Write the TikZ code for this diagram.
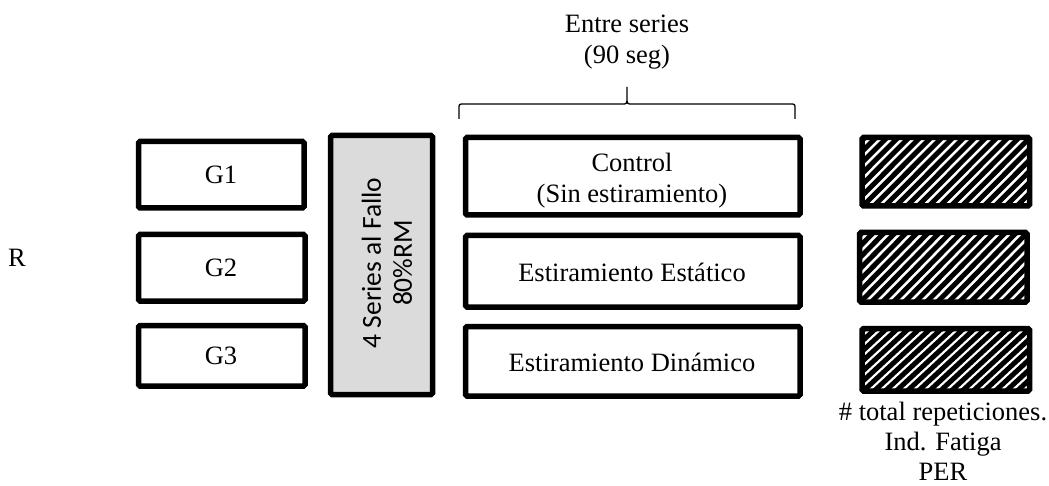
\documentclass[tikz,border=0pt]{standalone}
\usepackage{fontspec}
\setmainfont{Liberation Serif}
\newfontfamily\calfont{Carlito}
\begin{document}
\begin{tikzpicture}[x=1pt,y=-1pt,
  txt/.style={font=\fontsize{26.5}{31}\selectfont, align=center, inner sep=0pt},
  gbox/.style={draw, line width=5.5pt, rounded corners=1.5pt},
  hbox/.style={draw, line width=5.5pt, rounded corners=1.5pt}]
\useasboundingbox (0,0) rectangle (1049,486);
% R
\node[txt] (R) at (17,258) {R};
% G boxes
\draw[gbox] (138.5,141.5) rectangle (304,208);
\node[txt] (g1) at (221,175) {G1};
\draw[gbox] (138.5,234.5) rectangle (305,301);
\node[txt] (g2) at (221,268) {G2};
\draw[gbox] (138.5,325.5) rectangle (305,386);
\node[txt] (g3) at (221,356) {G3};
% gray box
\draw[gbox, fill=black!14] (330.5,135.5) rectangle (432.5,394.5);
\node[font=\calfont\fontsize{27.5}{31}\selectfont, align=center, inner sep=0pt, rotate=90] (serie) at (387,263) {4 Series al Fallo\\80\%RM};
% middle boxes
\draw[gbox] (465.5,137.5) rectangle (800,215);
\node[txt] (ctl) at (632,181) {Control\\(Sin estiramiento)};
\draw[gbox] (465.5,235.5) rectangle (800,307);
\node[txt] (est) at (632,272) {Estiramiento Estático};
\draw[gbox] (465.5,326.5) rectangle (800,396);
\node[txt] (din) at (632,362) {Estiramiento Dinámico};
% brace
\coordinate (bl) at (459,119);
\coordinate (br) at (795,119);
\coordinate (bt) at (627,87);
\draw[line width=1.3pt]
  (bl) -- (459,109) .. controls (459,104) .. (464,104) -- (622,104)
  .. controls (627,104) .. (627,97) -- (bt)
  (627,97) .. controls (627,104) .. (632,104) -- (790,104)
  .. controls (795,104) .. (795,109) -- (br);
\node[txt] (entre) at (627,42) {Entre series\\(90 seg)};
% hatched boxes
\foreach \xa/\ya/\xb/\yb in {862/137.5/1029.5/206, 859.5/232.5/1027/302, 862/328.5/1029.5/391}{
  \begin{scope}
    \clip (\xa,\ya) rectangle (\xb,\yb);
    \foreach \k in {-100,-89,...,200}{
      \draw[line width=5pt] (\xa+\k,\yb+2) -- (\xa+\k+72,\ya-2);
    }
  \end{scope}
  \draw[hbox] (\xa,\ya) rectangle (\xb,\yb);
}
\node[txt, font=\fontsize{26.5}{30}\selectfont] (res) at (943,441) {\# total repeticiones.\\Ind. Fatiga\\PER};
\end{tikzpicture}
\end{document}
